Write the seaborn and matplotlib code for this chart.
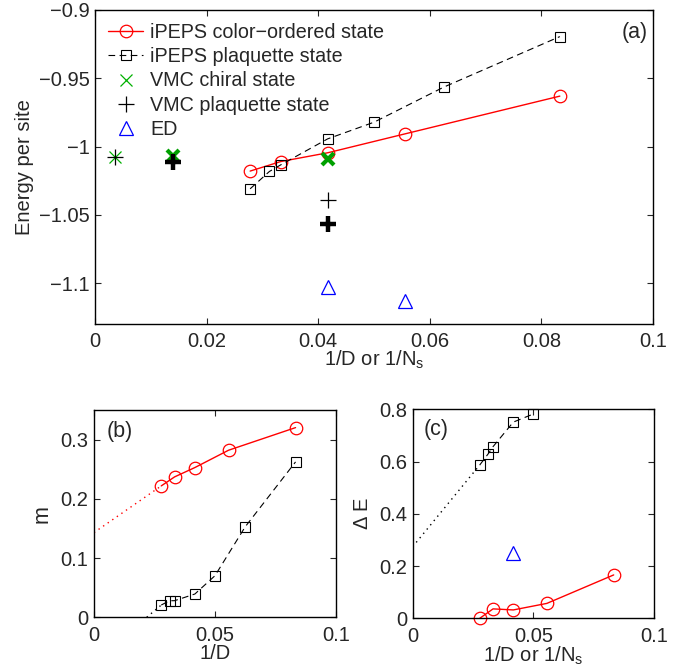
import matplotlib
matplotlib.use("Agg")
import matplotlib.pyplot as plt
import seaborn as sns
from matplotlib.ticker import FuncFormatter

# ---- panel (a): energy per site ----
x_color = [0.0278, 0.0333, 0.0417, 0.0556, 0.0833]
E_color = [-1.018, -1.011, -1.0046, -0.9907, -0.9631]
x_plaq = [0.0278, 0.03125, 0.0333, 0.0417, 0.05, 0.0625, 0.0833]
E_plaq = [-1.031, -1.0183, -1.0134, -0.9944, -0.9822, -0.9565, -0.9195]
x_chiral = [0.0035]
E_chiral = [-1.0078]
x_chiral_bold = [0.0139, 0.0417]
E_chiral_bold = [-1.007, -1.0095]
x_vmcp = [0.0035, 0.0417]
E_vmcp = [-1.0078, -1.039]
x_vmcp_bold = [0.0139, 0.0417]
E_vmcp_bold = [-1.011, -1.0566]
x_ed = [0.0417, 0.0556]
E_ed = [-1.1029, -1.113]

# ---- panel (b): magnetization ----
m_color = [0.2218, 0.237, 0.2528, 0.282, 0.3202]
m_plaq = [0.0207, 0.028, 0.028, 0.0393, 0.0702, 0.1528, 0.2623]
x_mfit_color = [0.0, 0.0278]
m_fit_color = [0.143, 0.2218]
x_mfit_plaq = [0.0218, 0.0278]
m_fit_plaq = [0.0, 0.0207]

# ---- panel (c): gap ----
x_gap_plaq = [0.0278, 0.03125, 0.0333, 0.0417, 0.05]
gap_plaq = [0.587, 0.629, 0.657, 0.751, 0.782]
gap_color = [0.0, 0.036, 0.032, 0.057, 0.166]
x_gfit_plaq = [0.0, 0.0278]
gap_fit_plaq = [0.274, 0.587]
x_gap_ed = [0.0417]
gap_ed = [0.251]

sns.set_style("ticks")
plt.rcParams['font.family'] = ['Liberation Sans', 'DejaVu Sans']
plt.rcParams['mathtext.fontset'] = 'custom'
plt.rcParams['mathtext.rm'] = 'Liberation Sans'
plt.rcParams['axes.unicode_minus'] = True

fig = plt.figure(figsize=(6.9, 6.69), dpi=100)
ax_a = fig.add_axes([0.1377, 0.5157, 0.8087, 0.4694])
ax_b = fig.add_axes([0.1362, 0.0773, 0.3507, 0.3099])
ax_c = fig.add_axes([0.5981, 0.0758, 0.3497, 0.3124])


def draw(ax, x, y, **kw):
    sns.lineplot(x=x, y=y, ax=ax, sort=False, estimator=None, **kw)


def red_circles(ax, x, y, label=None):
    draw(ax, x, y, color='red', lw=1.0, marker='o', markersize=9,
         markerfacecolor='none', markeredgecolor='red', markeredgewidth=0.9,
         clip_on=False, label=label)


def black_squares(ax, x, y, label=None):
    draw(ax, x, y, color='black', lw=0.8, linestyle=(0, (6, 4)), marker='s',
         markersize=7, markerfacecolor='none', markeredgecolor='black',
         markeredgewidth=0.8, clip_on=False, label=label)


# (a)
red_circles(ax_a, x_color, E_color, 'iPEPS color\u2212ordered state')
black_squares(ax_a, x_plaq, E_plaq, 'iPEPS plaquette state')
draw(ax_a, x_chiral, E_chiral, color='#00b000', linestyle='none', marker='x',
     markersize=8, markeredgecolor='#00b000', markeredgewidth=0.9,
     label='VMC chiral state')
draw(ax_a, x_vmcp, E_vmcp, color='black', linestyle='none', marker='+',
     markersize=11, markeredgecolor='black', markeredgewidth=0.9,
     label='VMC plaquette state')
draw(ax_a, x_ed, E_ed, color='blue', linestyle='none', marker='^',
     markersize=10, markerfacecolor='none', markeredgecolor='blue',
     markeredgewidth=0.9, label='ED')
draw(ax_a, x_chiral_bold, E_chiral_bold, color='#00a000', linestyle='none',
     marker='x', markersize=8, markeredgecolor='#00a000', markeredgewidth=3)
draw(ax_a, x_vmcp_bold, E_vmcp_bold, color='black', linestyle='none',
     marker='+', markersize=11, markeredgecolor='black', markeredgewidth=3.2)

ax_a.set_xlim(0, 0.1)
ax_a.set_ylim(-1.13, -0.9)
ax_a.set_xticks([0, 0.02, 0.04, 0.06, 0.08, 0.1])
ax_a.set_yticks([-1.1, -1.05, -1, -0.95, -0.9])
ax_a.set_xlabel('1/D or 1/N$_\\mathregular{s}$', fontsize=14.5)
ax_a.set_ylabel('Energy per site', fontsize=14.5)
ax_a.xaxis.set_label_coords(0.5, -0.078)
ax_a.yaxis.set_label_coords(-0.11, 0.5)
ax_a.text(0.968, 0.927, '(a)', transform=ax_a.transAxes, fontsize=15.5,
          ha='center', va='center')
h, l = ax_a.get_legend_handles_labels()
ax_a.legend(h, l, loc='upper left', frameon=False, fontsize=14.2,
            handlelength=1.8, handletextpad=0.35, labelspacing=0.27,
            borderaxespad=0.35, borderpad=0.3, bbox_to_anchor=(0.0, 1.0))

# (b)
draw(ax_b, x_mfit_color, m_fit_color, color='red', lw=1.0, linestyle=(0, (1, 3)))
draw(ax_b, x_mfit_plaq, m_fit_plaq, color='black', lw=1.0, linestyle=(0, (1, 3)))
red_circles(ax_b, x_color, m_color)
black_squares(ax_b, x_plaq, m_plaq)
ax_b.set_xlim(0, 0.1)
ax_b.set_ylim(0, 0.35)
ax_b.set_xticks([0, 0.05, 0.1])
ax_b.set_yticks([0, 0.1, 0.2, 0.3])
ax_b.set_xlabel('1/D', fontsize=14.5)
ax_b.set_ylabel('m', fontsize=15.5)
ax_b.xaxis.set_label_coords(0.5, -0.13)
ax_b.yaxis.set_label_coords(-0.17, 0.5)
ax_b.text(0.105, 0.895, '(b)', transform=ax_b.transAxes, fontsize=15.5,
          ha='center', va='center')

# (c)
draw(ax_c, x_gfit_plaq, gap_fit_plaq, color='black', lw=1.0, linestyle=(0, (1, 3)))
black_squares(ax_c, x_gap_plaq, gap_plaq)
red_circles(ax_c, x_color, gap_color)
draw(ax_c, x_gap_ed, gap_ed, color='blue', linestyle='none', marker='^',
     markersize=10, markerfacecolor='none', markeredgecolor='blue',
     markeredgewidth=0.9)
ax_c.set_xlim(0, 0.1)
ax_c.set_ylim(0, 0.8)
ax_c.set_xticks([0, 0.05, 0.1])
ax_c.set_yticks([0, 0.2, 0.4, 0.6, 0.8])
ax_c.set_xlabel('1/D or 1/N$_\\mathregular{s}$', fontsize=14.5)
ax_c.set_ylabel('\u0394 E', fontsize=14.5)
ax_c.xaxis.set_label_coords(0.5, -0.128)
ax_c.yaxis.set_label_coords(-0.17, 0.5)
ax_c.text(0.097, 0.904, '(c)', transform=ax_c.transAxes, fontsize=15.5,
          ha='center', va='center')

fmt = FuncFormatter(lambda v, p: ('%g' % round(v, 4)).replace('-', '\u2212'))
for ax in (ax_a, ax_b, ax_c):
    ax.xaxis.set_major_formatter(fmt)
    ax.yaxis.set_major_formatter(fmt)
    ax.tick_params(direction='in', top=True, right=True, length=4,
                   width=0.8, labelsize=14.5)
    ax.tick_params(axis='x', pad=6)
    ax.tick_params(axis='y', pad=4)
    for s in ax.spines.values():
        s.set_visible(True)
        s.set_linewidth(1.0)
        s.set_color('black')

fig.savefig('out.png', dpi=100)
